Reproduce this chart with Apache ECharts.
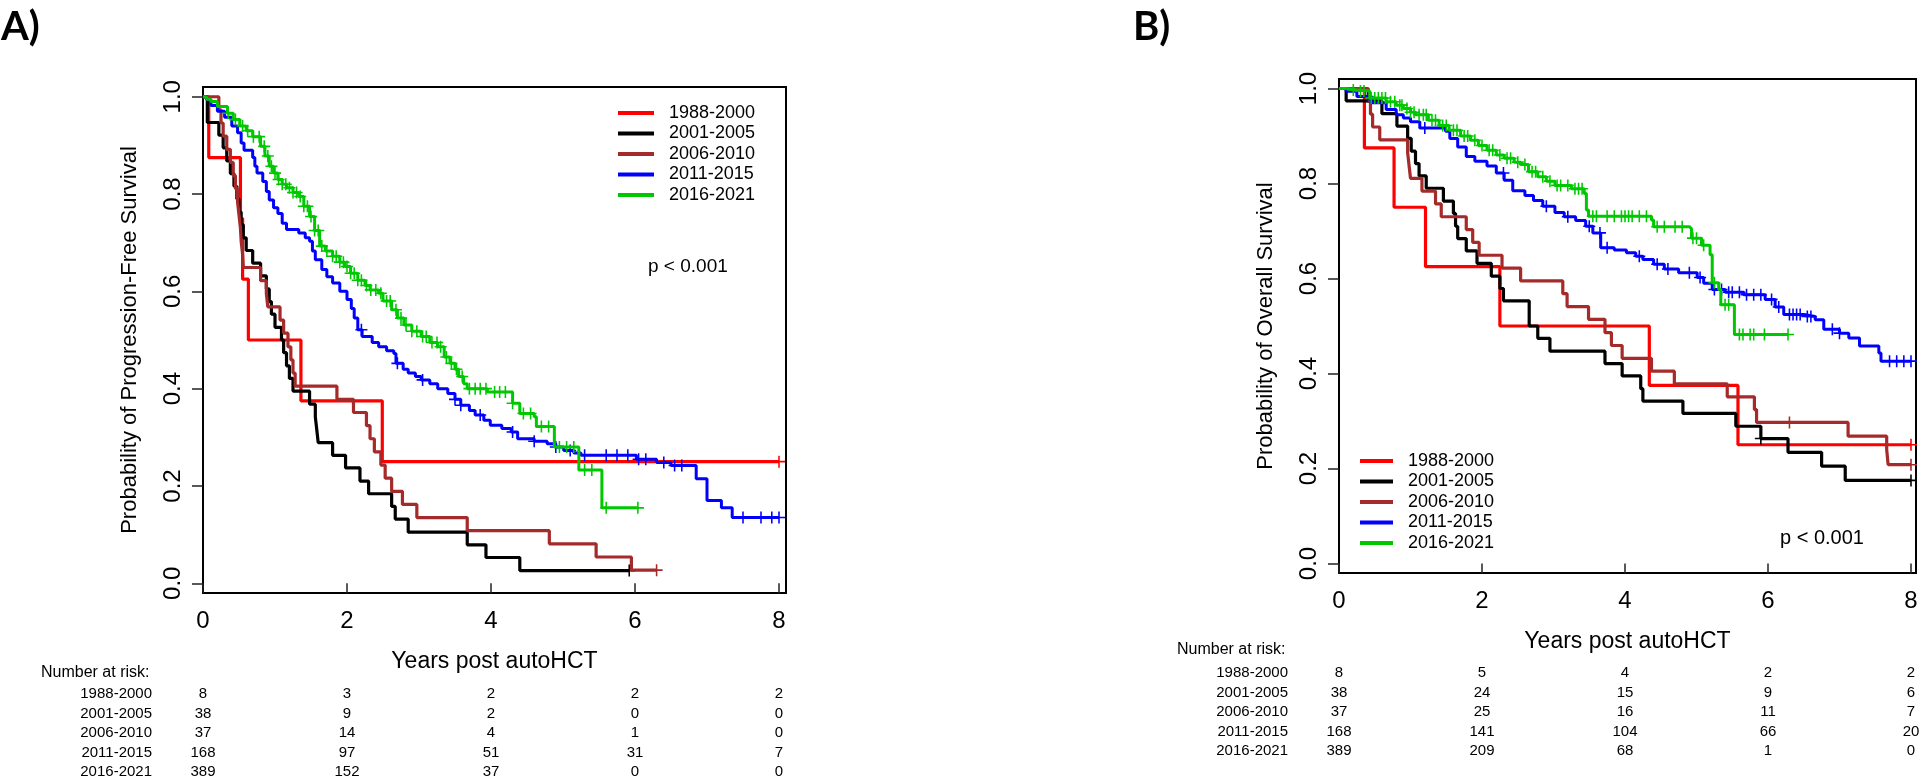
<!DOCTYPE html>
<html>
<head>
<meta charset="utf-8">
<script src="https://cdn.jsdelivr.net/npm/echarts@6/dist/echarts.min.js"></script>
<style>
  html, body { margin: 0; padding: 0; background: #fff; }
  #chart { width: 1920px; height: 780px; }
</style>
</head>
<body>
<div id="chart"></div>
<script>
const FONT = '"Liberation Sans", Arial, sans-serif';
const groups = ['1988-2000', '2001-2005', '2006-2010', '2011-2015', '2016-2021'];
const colors = ['#ff0000', '#000000', '#a52a2a', '#0000ff', '#00c800'];
const widths = [3.2, 3.2, 3.2, 3, 3];
const riskTimes = [0, 2, 4, 6, 8];
const yTicks = [0, 0.2, 0.4, 0.6, 0.8, 1.0];

// Panel A - progression-free survival, [years, probability]
const pfs1988 = [[0,1],[0.08,0.875],[0.52,0.75],[0.55,0.625],[0.63,0.5],[1.36,0.375],[2.49,0.25],[8,0.25]];
const pfs2001 = [[0,1],[0.06,0.947],[0.22,0.921],[0.28,0.895],[0.33,0.868],[0.38,0.842],[0.43,0.816],[0.47,0.79],[0.5,0.763],[0.53,0.737],[0.56,0.71],[0.6,0.684],[0.69,0.658],[0.8,0.632],[0.88,0.605],[0.92,0.579],[0.95,0.553],[1.0,0.526],[1.09,0.5],[1.12,0.474],[1.16,0.447],[1.2,0.421],[1.25,0.395],[1.48,0.368],[1.56,0.342],[1.58,0.316],[1.6,0.289],[1.8,0.263],[1.98,0.237],[2.18,0.21],[2.3,0.184],[2.62,0.158],[2.67,0.132],[2.85,0.105],[3.67,0.079],[3.93,0.053],[4.4,0.026],[5.92,0.026]];
const pfs2006 = [[0,1],[0.22,0.973],[0.25,0.946],[0.28,0.919],[0.33,0.892],[0.38,0.865],[0.42,0.838],[0.45,0.811],[0.48,0.784],[0.5,0.757],[0.52,0.73],[0.53,0.703],[0.55,0.676],[0.56,0.649],[0.8,0.622],[0.88,0.595],[0.9,0.568],[1.07,0.541],[1.12,0.514],[1.18,0.486],[1.22,0.459],[1.25,0.432],[1.28,0.405],[1.86,0.378],[2.09,0.351],[2.27,0.324],[2.32,0.297],[2.38,0.27],[2.47,0.243],[2.53,0.216],[2.62,0.189],[2.77,0.162],[2.97,0.135],[3.67,0.108],[4.81,0.081],[5.46,0.054],[5.95,0.027],[6.3,0.027]];
const pfs2011 = [[0,1],[0.05,0.994],[0.11,0.982],[0.2,0.97],[0.3,0.958],[0.4,0.94],[0.48,0.926],[0.53,0.905],[0.57,0.89],[0.69,0.875],[0.72,0.857],[0.75,0.843],[0.83,0.826],[0.88,0.805],[0.92,0.788],[0.98,0.772],[1.04,0.76],[1.1,0.74],[1.16,0.727],[1.33,0.72],[1.42,0.71],[1.48,0.703],[1.52,0.683],[1.56,0.665],[1.65,0.645],[1.72,0.63],[1.8,0.617],[1.9,0.6],[2.0,0.583],[2.06,0.565],[2.1,0.545],[2.15,0.521],[2.21,0.507],[2.35,0.495],[2.44,0.486],[2.55,0.478],[2.65,0.472],[2.68,0.452],[2.78,0.44],[2.85,0.432],[2.95,0.425],[3.03,0.418],[3.15,0.41],[3.26,0.4],[3.4,0.39],[3.5,0.378],[3.58,0.366],[3.7,0.355],[3.78,0.346],[3.9,0.335],[3.99,0.325],[4.15,0.318],[4.28,0.311],[4.37,0.297],[4.6,0.292],[4.78,0.287],[4.9,0.28],[5.01,0.273],[5.15,0.268],[5.25,0.263],[6.02,0.255],[6.3,0.248],[6.5,0.242],[6.85,0.215],[7.0,0.17],[7.2,0.155],[7.35,0.135],[8,0.135]];
const pfs2016 = [[0,1],[0.05,0.995],[0.11,0.99],[0.2,0.98],[0.34,0.966],[0.42,0.953],[0.51,0.94],[0.6,0.93],[0.69,0.918],[0.8,0.898],[0.86,0.878],[0.92,0.857],[0.98,0.843],[1.04,0.83],[1.1,0.82],[1.16,0.813],[1.25,0.803],[1.33,0.795],[1.4,0.775],[1.48,0.754],[1.55,0.725],[1.62,0.693],[1.7,0.683],[1.8,0.672],[1.9,0.66],[1.97,0.651],[2.05,0.637],[2.15,0.623],[2.25,0.612],[2.32,0.603],[2.44,0.596],[2.5,0.58],[2.62,0.562],[2.7,0.545],[2.79,0.531],[2.9,0.518],[3.03,0.507],[3.15,0.495],[3.26,0.486],[3.35,0.465],[3.43,0.452],[3.5,0.44],[3.55,0.425],[3.62,0.41],[3.67,0.4],[3.95,0.393],[4.3,0.37],[4.4,0.349],[4.6,0.342],[4.63,0.322],[4.88,0.28],[5.22,0.233],[5.54,0.155],[6.04,0.155]];

// Panel A - censoring times
const pfsCens1988 = [8];
const pfsCens2001 = [5.92];
const pfsCens2006 = [6.3];
const pfsCens2011 = [2.2,2.7,3.05,3.5,3.58,3.85,4.3,4.6,4.9,5.1,5.3,5.6,5.75,5.9,6.05,6.15,6.4,6.55,6.65,7.5,7.75,7.9,8];
const pfsCens2016 = [0.35,0.45,0.55,0.62,0.7,0.78,0.85,0.9,0.95,1.0,1.05,1.1,1.15,1.2,1.25,1.3,1.35,1.4,1.45,1.5,1.55,1.6,1.65,1.72,1.8,1.85,1.9,1.95,2.0,2.05,2.1,2.15,2.2,2.27,2.33,2.4,2.47,2.55,2.6,2.68,2.75,2.82,2.9,2.97,3.05,3.1,3.18,3.25,3.3,3.38,3.45,3.52,3.6,3.7,3.78,3.85,3.93,4.05,4.12,4.2,4.3,4.45,4.55,4.7,4.8,4.95,5.05,5.15,5.3,5.4,5.6,6.04];

// Panel B - overall survival, [years, probability]
const os1988 = [[0,1],[0.355,0.875],[0.77,0.75],[1.21,0.625],[2.25,0.5],[4.34,0.375],[5.58,0.25],[8,0.25]];
const os2001 = [[0,1],[0.1,0.974],[0.6,0.947],[0.81,0.921],[0.96,0.895],[1.01,0.868],[1.07,0.842],[1.12,0.816],[1.22,0.79],[1.46,0.763],[1.6,0.737],[1.63,0.71],[1.66,0.684],[1.78,0.658],[1.93,0.632],[2.13,0.605],[2.25,0.579],[2.3,0.553],[2.66,0.5],[2.78,0.474],[2.95,0.447],[3.72,0.421],[3.96,0.395],[4.22,0.368],[4.25,0.342],[4.81,0.316],[5.55,0.289],[5.9,0.263],[6.28,0.234],[6.75,0.205],[7.08,0.175],[8,0.175]];
const os2006 = [[0,1],[0.41,0.973],[0.44,0.946],[0.47,0.919],[0.57,0.892],[0.96,0.865],[0.98,0.838],[1.0,0.811],[1.16,0.784],[1.35,0.757],[1.43,0.73],[1.78,0.703],[1.87,0.676],[1.96,0.649],[2.28,0.622],[2.54,0.595],[3.13,0.568],[3.19,0.541],[3.49,0.514],[3.72,0.486],[3.81,0.459],[3.96,0.432],[4.37,0.405],[4.69,0.378],[5.43,0.351],[5.81,0.324],[5.84,0.297],[7.12,0.268],[7.66,0.24],[7.68,0.208],[8,0.208]];
const os2011 = [[0,1],[0.1,0.994],[0.25,0.983],[0.45,0.97],[0.66,0.956],[0.8,0.945],[0.9,0.938],[1.0,0.93],[1.13,0.917],[1.49,0.91],[1.55,0.895],[1.66,0.877],[1.78,0.857],[1.9,0.847],[2.07,0.837],[2.2,0.822],[2.31,0.807],[2.43,0.785],[2.6,0.775],[2.72,0.764],[2.85,0.752],[3.02,0.739],[3.15,0.73],[3.31,0.722],[3.45,0.71],[3.55,0.696],[3.66,0.665],[3.85,0.66],[4.02,0.654],[4.15,0.647],[4.25,0.64],[4.4,0.63],[4.55,0.62],[4.75,0.612],[5.01,0.602],[5.1,0.59],[5.22,0.577],[5.4,0.571],[5.66,0.566],[5.96,0.556],[6.1,0.54],[6.22,0.524],[6.5,0.52],[6.66,0.513],[6.78,0.493],[7.0,0.485],[7.13,0.475],[7.28,0.458],[7.55,0.443],[7.58,0.426],[8,0.426]];
const os2016 = [[0,1],[0.1,0.997],[0.25,0.995],[0.43,0.98],[0.66,0.972],[0.8,0.965],[0.9,0.958],[1.0,0.95],[1.07,0.945],[1.25,0.933],[1.4,0.922],[1.54,0.912],[1.7,0.9],[1.84,0.891],[1.95,0.88],[2.07,0.87],[2.2,0.86],[2.31,0.853],[2.45,0.845],[2.54,0.84],[2.65,0.825],[2.78,0.814],[2.9,0.805],[3.02,0.796],[3.25,0.789],[3.43,0.779],[3.46,0.744],[3.49,0.731],[4.37,0.723],[4.4,0.709],[4.9,0.705],[4.93,0.685],[5.07,0.67],[5.19,0.65],[5.22,0.591],[5.31,0.577],[5.34,0.545],[5.53,0.482],[6.28,0.482]];

// Panel B - censoring times
const osCens1988 = [8];
const osCens2001 = [5.9, 8];
const osCens2006 = [6.3, 8];
const osCens2011 = [0.4,1.2,2.3,2.9,3.2,3.5,3.65,3.75,4.2,4.45,4.6,4.9,5.05,5.25,5.35,5.45,5.5,5.6,5.7,5.8,5.9,6.05,6.15,6.3,6.35,6.4,6.45,6.55,6.6,6.9,7.0,7.7,7.8,7.9,8];
const osCens2016 = [0.2,0.3,0.35,0.45,0.5,0.55,0.6,0.65,0.72,0.78,0.85,0.88,0.95,1.0,1.05,1.12,1.18,1.22,1.3,1.35,1.45,1.5,1.6,1.65,1.75,1.8,1.9,2.0,2.1,2.15,2.25,2.35,2.4,2.5,2.6,2.7,2.75,2.85,2.95,3.05,3.1,3.2,3.3,3.35,3.4,3.55,3.6,3.75,3.85,3.95,4.0,4.05,4.1,4.2,4.3,4.45,4.55,4.7,4.8,4.95,5.0,5.1,5.25,5.4,5.45,5.6,5.65,5.75,5.8,5.95,6.28];

// numbers at risk at riskTimes
const pfsRisk = [[8,3,2,2,2],[38,9,2,0,0],[37,14,4,1,0],[168,97,51,31,7],[389,152,37,0,0]];
const osRisk = [[8,5,4,2,2],[38,24,15,9,6],[37,25,16,11,7],[168,141,104,66,20],[389,209,68,1,0]];

const pfsCurves = [pfs1988, pfs2001, pfs2006, pfs2011, pfs2016];
const pfsCens = [pfsCens1988, pfsCens2001, pfsCens2006, pfsCens2011, pfsCens2016];
const osCurves = [os1988, os2001, os2006, os2011, os2016];
const osCens = [osCens1988, osCens2001, osCens2006, osCens2011, osCens2016];

// value of the KM step function at time t
function stepAt(curve, t) {
  let s = curve[0][1];
  for (const p of curve) {
    if (p[0] <= t) s = p[1]; else break;
  }
  return s;
}

const plus = 'path://M-1,-0.13L1,-0.13L1,0.13L-1,0.13Z M-0.13,-1L0.13,-1L0.13,1L-0.13,1Z';

function panelSeries(curves, cens, idx) {
  const out = [];
  curves.forEach((c, g) => {
    out.push({
      name: groups[g], type: 'line', step: 'end', symbol: 'none',
      xAxisIndex: idx, yAxisIndex: idx, data: c, silent: true,
      lineStyle: { color: colors[g], width: widths[g] },
      itemStyle: { color: colors[g] }, z: 2 + g
    });
    out.push({
      name: groups[g] + ' cens', type: 'scatter', symbol: plus, symbolSize: 12,
      xAxisIndex: idx, yAxisIndex: idx, silent: true,
      data: cens[g].map(t => [t, stepAt(c, t)]),
      itemStyle: { color: colors[g], opacity: 1 }, z: 2 + g
    });
  });
  return out;
}

function xAxisOf(grid, max, gap) {
  return {
    type: 'value', gridIndex: grid, min: 0, max: max,
    name: 'Years post autoHCT', nameLocation: 'middle', nameGap: gap,
    nameTextStyle: { fontSize: 23, color: '#000', fontFamily: FONT },
    axisLine: { show: false }, splitLine: { show: false },
    axisTick: { customValues: riskTimes, length: 10, lineStyle: { color: '#222', width: 1.5 } },
    axisLabel: { customValues: riskTimes, fontSize: 24, color: '#000', fontFamily: FONT, margin: 16 }
  };
}

function yAxisOf(grid, title) {
  return {
    type: 'value', gridIndex: grid, min: -0.02, max: 1.02,
    name: title, nameLocation: 'middle', nameGap: 62,
    nameTextStyle: { fontSize: 22, color: '#000', fontFamily: FONT },
    axisLine: { show: false }, splitLine: { show: false },
    axisTick: { customValues: yTicks, length: 11, lineStyle: { color: '#222', width: 1.5 } },
    axisLabel: {
      customValues: yTicks, rotate: 90, fontSize: 24, color: '#000', fontFamily: FONT, margin: 18,
      formatter: v => v.toFixed(1)
    }
  };
}

function legendOf(left, top, w) {
  return {
    data: groups, orient: 'vertical', left: left, top: top,
    icon: 'path://M0,0H' + w + 'V4H0Z',
    itemWidth: w, itemHeight: 18, itemGap: 2.5, selectedMode: false,
    itemStyle: { borderWidth: 0 },
    formatter: name => '{t|' + name + '}',
    textStyle: {
      rich: { t: { fontSize: 18, lineHeight: 18, color: '#000', fontFamily: FONT, padding: [0, 0, 0, 10] } }
    }
  };
}

const chart = echarts.init(document.getElementById('chart'), null, { renderer: 'canvas' });

chart.setOption({
  animation: false,
  backgroundColor: '#fff',
  grid: [
    { left: 203, top: 87, width: 583, height: 506, show: true, borderColor: '#000', borderWidth: 2, outerBoundsMode: 'none', containLabel: false },
    { left: 1339, top: 79, width: 577, height: 494, show: true, borderColor: '#000', borderWidth: 2, outerBoundsMode: 'none', containLabel: false }
  ],
  xAxis: [xAxisOf(0, 583 / 72, 57), xAxisOf(1, 577 / 71.5, 57)],
  yAxis: [
    yAxisOf(0, 'Probability of Progression-Free Survival'),
    yAxisOf(1, 'Probability of Overall Survival')
  ],
  legend: [legendOf(613, 99, 36), legendOf(1355, 447, 33)],
  series: panelSeries(pfsCurves, pfsCens, 0).concat(panelSeries(osCurves, osCens, 1))
});

// texts: panel letters, p values and the number-at-risk tables
function tableGraphics(grid, risk, headerY, firstRowY) {
  const out = [];
  const x0 = chart.convertToPixel({ gridIndex: grid }, [0, 0])[0];
  out.push({ type: 'text', x: x0 - 162, y: headerY,
    style: { text: 'Number at risk:', fontSize: 16, fontFamily: FONT, fill: '#000', align: 'left', verticalAlign: 'middle' } });
  groups.forEach((g, r) => {
    const y = firstRowY + r * 19.5;
    out.push({ type: 'text', x: x0 - 51, y: y,
      style: { text: g, fontSize: 15, fontFamily: FONT, fill: '#000', align: 'right', verticalAlign: 'middle' } });
    riskTimes.forEach((t, k) => {
      const x = chart.convertToPixel({ gridIndex: grid }, [t, 0])[0];
      out.push({ type: 'text', x: x, y: y,
        style: { text: String(risk[r][k]), fontSize: 15, fontFamily: FONT, fill: '#000', align: 'center', verticalAlign: 'middle' } });
    });
  });
  return out;
}

const graphics = [
  { type: 'text', x: 1, y: 27, style: { text: 'A)', fontSize: 40, fontWeight: 'bold', fontFamily: 'Lato, "Open Sans", sans-serif', fill: '#000', verticalAlign: 'middle' } },
  { type: 'text', x: 1133, y: 27, style: { text: 'B)', fontSize: 40, fontWeight: 'bold', fontFamily: 'Lato, "Open Sans", sans-serif', fill: '#000', verticalAlign: 'middle' } },
  { type: 'text', x: 648, y: 267, style: { text: 'p < 0.001', fontSize: 19, fontFamily: FONT, fill: '#000', verticalAlign: 'middle' } },
  { type: 'text', x: 1780, y: 538, style: { text: 'p < 0.001', fontSize: 20, fontFamily: FONT, fill: '#000', verticalAlign: 'middle' } }
].concat(tableGraphics(0, pfsRisk, 673, 694), tableGraphics(1, osRisk, 650, 673));

chart.setOption({ graphic: graphics });
</script>
</body>
</html>
